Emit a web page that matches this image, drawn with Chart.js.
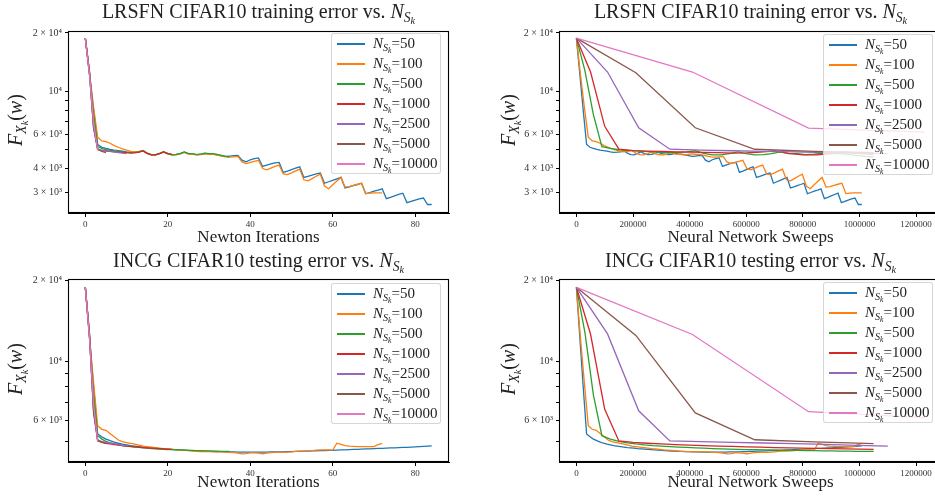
<!DOCTYPE html>
<html>
<head>
<meta charset="utf-8">
<script src="https://cdn.jsdelivr.net/npm/chart.js@4.4.1/dist/chart.umd.min.js"></script>
<style>
  body { margin: 0; width: 935px; height: 497px; overflow: hidden; background: #fff; position: relative;
         font-family: "Liberation Serif", serif; color: #222; }
  canvas { position: absolute; }
  .title { position: absolute; font-size: 20px; line-height: 20px; white-space: nowrap; transform: translateX(-50%); }
  .xlabel { position: absolute; font-size: 17px; line-height: 17px; white-space: nowrap; transform: translateX(-50%); }
  .ylabel { position: absolute; font-size: 20px; line-height: 20px; white-space: nowrap; transform: translate(-50%, -50%) rotate(-90deg); }
  .legend { position: absolute; width: 110px; height: 141px; box-sizing: border-box; background: rgba(255,255,255,0.8);
            border: 1px solid rgba(204,204,204,0.8); border-radius: 3px; }
  .row { position: relative; height: 20px; line-height: 20px; font-size: 15px; white-space: nowrap; padding-left: 41px; }
  .row:first-child { margin-top: -1px; }
  .swatch { position: absolute; left: 5px; top: 10px; width: 28px; height: 2px; }
  .s1 { font-size: 0.68em; position: relative; top: 0.3em; font-style: italic; }
  .s2 { font-size: 0.75em; position: relative; top: 0.2em; font-style: italic; }
</style>
</head>
<body>
<canvas id="trainIter" width="445" height="212" style="left:10px;top:22px"></canvas>
<canvas id="trainSweeps" width="450" height="212" style="left:500px;top:22px"></canvas>
<canvas id="testIter" width="445" height="214" style="left:10px;top:270px"></canvas>
<canvas id="testSweeps" width="450" height="214" style="left:500px;top:270px"></canvas>

<div class="title" style="left:258.5px;top:1px">LRSFN CIFAR10 training error vs. <i>N</i><span class="s1">S<span class="s2">k</span></span></div>
<div class="title" style="left:750.5px;top:1px">LRSFN CIFAR10 training error vs. <i>N</i><span class="s1">S<span class="s2">k</span></span></div>
<div class="title" style="left:258.5px;top:250px">INCG CIFAR10 testing error vs. <i>N</i><span class="s1">S<span class="s2">k</span></span></div>
<div class="title" style="left:750.5px;top:250px">INCG CIFAR10 testing error vs. <i>N</i><span class="s1">S<span class="s2">k</span></span></div>

<div class="xlabel" style="left:258.5px;top:228px">Newton Iterations</div>
<div class="xlabel" style="left:750.5px;top:228px">Neural Network Sweeps</div>
<div class="xlabel" style="left:258.5px;top:473px">Newton Iterations</div>
<div class="xlabel" style="left:750.5px;top:473px">Neural Network Sweeps</div>

<div class="ylabel" style="left:17px;top:120px"><i>F</i><span class="s1">X<span class="s2">k</span></span>(<i>w</i>)</div>
<div class="ylabel" style="left:510px;top:120px"><i>F</i><span class="s1">X<span class="s2">k</span></span>(<i>w</i>)</div>
<div class="ylabel" style="left:17px;top:369px"><i>F</i><span class="s1">X<span class="s2">k</span></span>(<i>w</i>)</div>
<div class="ylabel" style="left:510px;top:369px"><i>F</i><span class="s1">X<span class="s2">k</span></span>(<i>w</i>)</div>

<div class="legend" id="leg1" style="left:331px;top:33px"></div>
<div class="legend" id="leg2" style="left:823px;top:34px"></div>
<div class="legend" id="leg3" style="left:331px;top:283px"></div>
<div class="legend" id="leg4" style="left:823px;top:282px"></div>

<script>
// ---------- DATA ----------
const sampleSizes = ["50", "100", "500", "1000", "2500", "5000", "10000"];
const seriesColors = ["#1f77b4", "#ff7f0e", "#2ca02c", "#d62728", "#9467bd", "#8c564b", "#e377c2"];
// sweeps spent per Newton iteration for each sample size
const sweepsPerIter = [12000, 14000, 30000, 50000, 110000, 210000, 410000];

const iterTicks = [0, 20, 40, 60, 80];
const sweepTicks = [0, 200000, 400000, 600000, 800000, 1000000, 1200000];
const trainYTicks = [3000, 4000, 5000, 6000, 7000, 8000, 9000, 10000, 20000];
const testYTicks = [5000, 6000, 7000, 8000, 9000, 10000, 20000];
const yTickLabels = { 20000: "2 × 10⁴", 10000: "10⁴", 6000: "6 × 10³", 4000: "4 × 10³", 3000: "3 × 10³" };

// training error, one value per Newton iteration
const train50 = [18800, 12300, 8000, 5320, 5150, 5080, 5020, 4980, 4950, 4920,
  4880, 4850, 4860, 4880, 4950, 4800, 4720, 4710, 4790, 4880,
  4780, 4720, 4730, 4770, 4860, 4770, 4750, 4720, 4740, 4790,
  4760, 4750, 4700, 4660, 4620, 4640, 4660, 4680, 4420, 4330,
  4440, 4500, 4540, 4100, 4170, 4230, 4280, 4300, 3820, 3880,
  3950, 4020, 4080, 3600, 3650, 3700, 3750, 3790, 3360, 3420,
  3480, 3540, 3600, 3180, 3220, 3270, 3310, 3360, 2970, 3010,
  3060, 3100, 3145, 2800, 2840, 2890, 2940, 2985, 2670, 2710,
  2750, 2790, 2820, 2610, 2610];
const train100 = [18800, 12300, 8300, 5800, 5550, 5500, 5400, 5250, 5150, 5050,
  4980, 4900, 4880, 4900, 4960, 4800, 4720, 4710, 4780, 4870,
  4760, 4700, 4710, 4760, 4850, 4750, 4740, 4700, 4720, 4760,
  4740, 4730, 4690, 4640, 4590, 4580, 4600, 4620, 4330, 4240,
  4300, 4360, 4410, 4000, 3940, 4020, 4100, 4170, 3750, 3720,
  3800, 3890, 3970, 3500, 3460, 3550, 3650, 3740, 3250, 3150,
  3300, 3450, 3600, 3210, 3230, 3280, 3320, 3360, 2970, 2990,
  3000, 3000, 3000];
const train500 = [18800, 12800, 7580, 5190, 5080, 5000, 4960, 4930, 4900, 4880,
  4850, 4830, 4850, 4880, 4940, 4790, 4710, 4700, 4780, 4870,
  4770, 4710, 4720, 4770, 4870, 4780, 4780, 4720, 4750, 4800,
  4780, 4770, 4730, 4680, 4620, 4600];
const train1000 = [18800, 12580, 6600, 5035, 4950, 4920, 4900, 4880, 4860, 4850,
  4830, 4800, 4820, 4860, 4930, 4790, 4700, 4700, 4780, 4870,
  4770, 4730];
const train2500 = [18800, 12580, 6490, 5035, 4980, 4940, 4900, 4870, 4840, 4800, 4770];
const train5000 = [18800, 12470, 6490, 5030, 4900, 4830];
const train10000 = [18800, 12300, 6900, 4960];
const train10000Sweeps = [18800, 12580, 6460, 6170];

// testing error, one value per Newton iteration
const test50 = [18900, 12300, 8000, 5330, 5200, 5100, 5030, 4970, 4920, 4880,
  4850, 4820, 4800, 4780, 4760, 4740, 4730, 4720, 4700, 4690,
  4680, 4670, 4660, 4650, 4640, 4630, 4620, 4610, 4600, 4600,
  4590, 4590, 4580, 4580, 4570, 4570, 4570, 4560, 4560, 4560,
  4560, 4560, 4560, 4560, 4560, 4565, 4565, 4570, 4570, 4575,
  4580, 4585, 4590, 4595, 4600, 4605, 4610, 4615, 4620, 4625,
  4630, 4640, 4645, 4650, 4660, 4665, 4670, 4680, 4685, 4690,
  4700, 4705, 4710, 4720, 4725, 4730, 4740, 4745, 4750, 4760,
  4770, 4780, 4790, 4800, 4810];
const test100 = [18900, 12300, 8300, 5720, 5550, 5500, 5350, 5200, 5060, 4990,
  4950, 4910, 4880, 4840, 4800, 4780, 4760, 4740, 4720, 4700,
  4690, 4670, 4650, 4640, 4630, 4620, 4600, 4590, 4580, 4580,
  4575, 4570, 4570, 4565, 4560, 4550, 4540, 4520, 4490, 4500,
  4530, 4530, 4520, 4495, 4520, 4540, 4545, 4550, 4550, 4555,
  4570, 4590, 4600, 4600, 4610, 4620, 4640, 4650, 4650, 4650,
  4640, 4920, 4870, 4820, 4800, 4790, 4780, 4780, 4780, 4780,
  4780, 4860, 4910];
const test500 = [18900, 12800, 7470, 5250, 5100, 5000, 4940, 4890, 4850, 4820,
  4800, 4780, 4760, 4745, 4730, 4715, 4700, 4690, 4680, 4670,
  4660, 4655, 4650, 4645, 4640, 4630, 4625, 4620, 4615, 4610,
  4605, 4600, 4595, 4590, 4588, 4585];
const test1000 = [18900, 12600, 6590, 5020, 4960, 4920, 4890, 4860, 4840, 4820,
  4800, 4785, 4770, 4755, 4740, 4725, 4715, 4705, 4695, 4685,
  4675, 4665];
const test2500 = [18900, 12640, 6510, 5020, 4990, 4960, 4930, 4900, 4870, 4830, 4800];
const test5000 = [18900, 12470, 6390, 5070, 4980, 4900];
const test10000 = [18900, 12300, 6900, 4990];
const test10000Sweeps = [18900, 12580, 6460, 6140];

const trainSeries = [train50, train100, train500, train1000, train2500, train5000, train10000];
const testSeries = [test50, test100, test500, test1000, test2500, test5000, test10000];
const trainSweepSeries = [train50, train100, train500, train1000, train2500, train5000, train10000Sweeps];
const testSweepSeries = [test50, test100, test500, test1000, test2500, test5000, test10000Sweeps];

// ---------- CHARTS ----------
const xTickFont = { family: "Liberation Serif", size: 9 };
const yTickFont = { family: "Liberation Serif", size: 10 };

const frame = {
  id: "frame",
  afterDraw(chart) {
    const a = chart.chartArea, ctx = chart.ctx;
    ctx.save();
    ctx.strokeStyle = "#000";
    ctx.lineWidth = 1.1;
    ctx.strokeRect(a.left + 0.5, a.top + 0.5, a.right - a.left - 1, a.bottom - a.top - 1);
    ctx.restore();
  }
};

function makeChart(id, series, bySweeps, yMin, yMax, yTicks, xHeight, padRight) {
  const datasets = series.map((vals, s) => ({
    label: "N=" + sampleSizes[s],
    data: vals.map((v, i) => ({ x: bySweeps ? i * sweepsPerIter[s] : i, y: v })),
    borderColor: seriesColors[s],
    borderWidth: 1.3,
    pointRadius: 0,
    fill: false,
    tension: 0,
    order: series.length - s
  }));
  const xTicks = bySweeps ? sweepTicks : iterTicks;

  new Chart(document.getElementById(id).getContext("2d"), {
    type: "line",
    data: { datasets },
    options: {
      responsive: false,
      animation: false,
      layout: { padding: { top: 6, right: padRight, left: 0, bottom: 0 } },
      plugins: { legend: { display: false }, tooltip: { enabled: false } },
      scales: {
        x: {
          type: "linear",
          min: bySweeps ? -61500 : -4.2,
          max: bySweeps ? 1291500 : 88.2,
          afterBuildTicks: s => { s.ticks = xTicks.map(v => ({ value: v })); },
          afterFit: s => { s.height = xHeight; },
          grid: { drawOnChartArea: false, color: "#000", tickLength: 4 },
          border: { color: "#000" },
          ticks: { color: "#333", font: xTickFont, maxRotation: 0, autoSkip: false, padding: 2,
                   callback: v => String(v) }
        },
        y: {
          type: "logarithmic",
          min: yMin,
          max: yMax,
          afterBuildTicks: s => { s.ticks = yTicks.map(v => ({ value: v })); },
          afterFit: s => { s.width = bySweeps ? 59 : 58; },
          grid: { drawOnChartArea: false, color: "#000", tickLength: 3 },
          border: { color: "#000" },
          ticks: { color: "#333", font: yTickFont, autoSkip: false, padding: 3,
                   callback: v => yTickLabels[v] || "" }
        }
      }
    },
    plugins: [frame]
  });
}

function makeLegend(id) {
  const box = document.getElementById(id);
  sampleSizes.forEach((n, s) => {
    const row = document.createElement("div");
    row.className = "row";
    row.innerHTML = `<span class="swatch" style="background:${seriesColors[s]}"></span>` +
      `<i>N</i><span class="s1">S<span class="s2">k</span></span>=${n}`;
    box.appendChild(row);
  });
}

makeChart("trainIter", trainSeries, false, 2360, 20470, trainYTicks, 21, 6);
makeChart("trainSweeps", trainSweepSeries, true, 2360, 20470, trainYTicks, 21, 8);
makeChart("testIter", testSeries, false, 4185, 20300, testYTicks, 22, 6);
makeChart("testSweeps", testSweepSeries, true, 4185, 20300, testYTicks, 22, 8);

["leg1", "leg2", "leg3", "leg4"].forEach(makeLegend);
</script>
</body>
</html>
